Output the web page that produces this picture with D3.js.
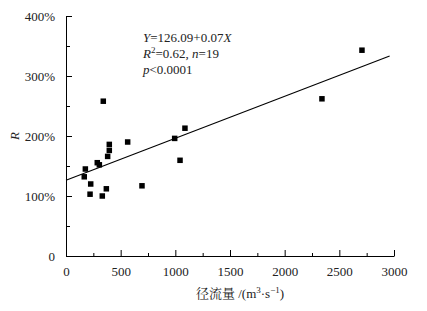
<!DOCTYPE html>
<html>
<head>
<meta charset="utf-8">
<script src="https://cdn.jsdelivr.net/npm/d3@7"></script>
<style>
  body { margin: 0; background: #fff; }
</style>
</head>
<body>
<div id="chart"></div>
<script>
// runoff (m3/s) vs R (%)
const runoff = [341, 396, 396, 381, 564, 286, 305, 177, 167, 226, 369, 220, 332, 695, 1088, 994, 1043, 2707, 2341];
const ratio = [258, 186, 176, 166, 190, 155.5, 152, 145, 132, 120, 112, 103, 100, 117, 213, 196, 159.5, 343, 262];
const xTicks = [0, 500, 1000, 1500, 2000, 2500, 3000];
const yTicks = [0, 100, 200, 300, 400];
const fitIntercept = 126.09;
const fitSlope = 0.07;
const fitRange = [0, 2960];

const data = runoff.map((x, i) => ({ x, y: ratio[i] }));

const serif = "'Liberation Serif', 'Times New Roman', serif";
const size = { width: 427, height: 311 };
const margin = { top: 16, right: 33, bottom: 55, left: 66 };

const svg = d3
  .select('#chart')
  .append('svg')
  .attr('width', size.width)
  .attr('height', size.height)
  .style('font-family', serif)
  .style('font-size', '13px');

const x = d3
  .scaleLinear()
  .domain([0, 3000])
  .range([margin.left, size.width - margin.right]);

const y = d3
  .scaleLinear()
  .domain([0, 400])
  .range([size.height - margin.bottom, margin.top]);

// minor ticks
svg
  .append('g')
  .attr('transform', `translate(0, ${y(0)})`)
  .call(d3.axisBottom(x).tickValues(d3.range(250, 3000, 500)).tickSize(-3).tickFormat(''))
  .call((g) => g.select('.domain').remove());

svg
  .append('g')
  .attr('transform', `translate(${x(0)}, 0)`)
  .call(d3.axisLeft(y).tickValues(d3.range(50, 400, 100)).tickSize(-4).tickFormat(''))
  .call((g) => g.select('.domain').remove());

const xAxis = svg
  .append('g')
  .attr('transform', `translate(0, ${y(0)})`)
  .call(
    d3.axisBottom(x)
      .tickValues(xTicks)
      .tickSizeInner(-6)
      .tickSizeOuter(0)
      .tickPadding(10.5)
      .tickFormat(d3.format('d')),
  );

const yAxis = svg
  .append('g')
  .attr('transform', `translate(${x(0)}, 0)`)
  .call(
    d3.axisLeft(y)
      .tickValues(yTicks)
      .tickSizeInner(-6)
      .tickSizeOuter(0)
      .tickPadding(11)
      .tickFormat((d) => (d === 0 ? '0' : `${d}%`)),
  );

[xAxis, yAxis].forEach((g) => {
  g.attr('font-family', null).attr('font-size', null);
  g.selectAll('text')
    .style('font-family', serif)
    .style('font-size', '13px')
    .attr('fill', '#222');
  g.selectAll('line, path').attr('stroke', '#000');
});

// fitted line
const line = d3
  .line()
  .x((d) => x(d))
  .y((d) => y(fitIntercept + fitSlope * d));

svg
  .append('path')
  .datum(fitRange)
  .attr('d', line)
  .attr('fill', 'none')
  .attr('stroke', '#000')
  .attr('stroke-width', 1.1);

const sq = 5.5;
svg
  .selectAll('.pt')
  .data(data)
  .enter()
  .append('rect')
  .attr('class', 'pt')
  .attr('x', (d) => x(d.x) - sq / 2)
  .attr('y', (d) => y(d.y) - sq / 2)
  .attr('width', sq)
  .attr('height', sq)
  .attr('fill', '#000');

// annotation
const note = svg
  .append('text')
  .attr('x', 143)
  .attr('y', 42)
  .style('font-family', serif)
  .attr('fill', '#222');

const l1 = note.append('tspan').attr('x', 143);
l1.append('tspan').style('font-style', 'italic').text('Y');
l1.append('tspan').text(`=${fitIntercept}+${fitSlope}`);
l1.append('tspan').style('font-style', 'italic').text('X');

const l2 = note.append('tspan').attr('x', 143).attr('dy', 16);
l2.append('tspan').style('font-style', 'italic').text('R');
l2.append('tspan').attr('dy', -5).style('font-size', '9px').text('2');
l2.append('tspan').attr('dy', 5).text('=0.62, ');
l2.append('tspan').style('font-style', 'italic').text('n');
l2.append('tspan').text('=19');

const l3 = note.append('tspan').attr('x', 143).attr('dy', 16);
l3.append('tspan').style('font-style', 'italic').text('p');
l3.append('tspan').text('<0.0001');

// axis titles
svg
  .append('text')
  .attr('transform', `translate(19, ${(y(0) + y(400)) / 2}) rotate(-90)`)
  .attr('text-anchor', 'middle')
  .style('font-family', serif)
  .style('font-style', 'italic')
  .attr('fill', '#222')
  .text('R');

const xt = svg
  .append('text')
  .attr('x', 240)
  .attr('y', 298)
  .attr('text-anchor', 'middle')
  .style('font-family', serif)
  .attr('fill', '#222');
xt.append('tspan').style('font-family', "'Noto Serif CJK SC', serif").text('径流量');
xt.append('tspan').text(' /(m');
xt.append('tspan').attr('dy', -5).style('font-size', '9px').text('3');
xt.append('tspan').attr('dy', 5).text('·s');
xt.append('tspan').attr('dy', -5).style('font-size', '9px').text('−1');
xt.append('tspan').attr('dy', 5).text(')');
</script>
</body>
</html>
